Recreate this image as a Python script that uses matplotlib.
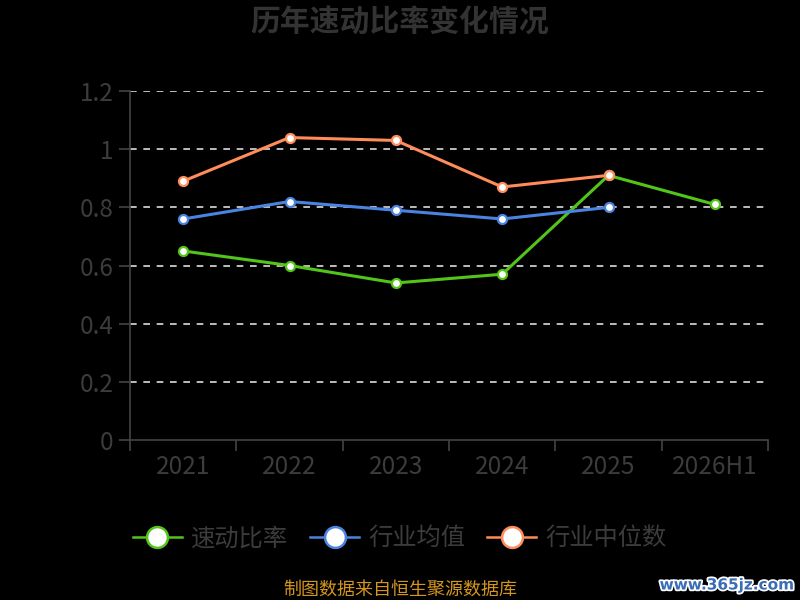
import matplotlib
matplotlib.use("Agg")
import matplotlib.pyplot as plt
import matplotlib.patheffects as pe
from matplotlib.lines import Line2D
import numpy as np

plt.rcParams['font.family'] = ['Noto Sans CJK SC', 'DejaVu Sans']

categories = ['2021', '2022', '2023', '2024', '2025', '2026H1']
quick_ratio = [0.65, 0.60, 0.54, 0.57, 0.91, 0.81]
industry_avg = [0.76, 0.82, 0.79, 0.76, 0.80]
industry_median = [0.89, 1.04, 1.03, 0.87, 0.91]
series_names = ['速动比率', '行业均值', '行业中位数']
colors = ['#52c41a', '#4a84e0', '#ff8c5a']
yticks = [0, 0.2, 0.4, 0.6, 0.8, 1.0, 1.2]
ytick_labels = ['0', '0.2', '0.4', '0.6', '0.8', '1', '1.2']

fig = plt.figure(figsize=(8, 6), dpi=100, facecolor='black')
ax = fig.add_axes([0.1625, 0.2667, 0.7975, 0.5816])
ax.set_facecolor('black')

text_color = '#3c3c3c'
axis_color = '#444444'

x = np.arange(len(categories))
data = [quick_ratio, industry_avg, industry_median]
for vals, c, name in zip(data, colors, series_names):
    ax.plot(x[:len(vals)], vals, color=c, lw=2.2, marker='o', markersize=6.5,
            markerfacecolor='white', markeredgecolor=c, markeredgewidth=1.6,
            zorder=3, label=name)

ax.set_xlim(-0.5, len(categories) - 0.5)
ax.set_ylim(0, 1.2)
ax.set_yticks(yticks)
ax.set_yticklabels(ytick_labels)
for yv in yticks[1:]:
    ax.axhline(yv, color='#dddddd', lw=1.2, ls=(0, (4, 4)), zorder=1)

ax.set_xticks(np.arange(-0.5, len(categories), 1))
ax.set_xticklabels([])
ax.set_xticks(x, minor=True)
ax.set_xticklabels(categories, minor=True)
ax.tick_params(axis='x', which='major', length=8, color=axis_color, width=1.2)
ax.tick_params(axis='x', which='minor', length=0, pad=10, labelsize=17.5, labelcolor=text_color)
ax.tick_params(axis='y', length=8, color=axis_color, width=1.2, labelsize=17.5,
               labelcolor=text_color, pad=4)

for s in ['top', 'right']:
    ax.spines[s].set_visible(False)
for s in ['left', 'bottom']:
    ax.spines[s].set_color(axis_color)
    ax.spines[s].set_linewidth(1.2)

fig.text(0.5, 0.963, '历年速动比率变化情况', ha='center', va='center',
         fontsize=21.5, fontweight='bold', color='#333333')

handles = [Line2D([0], [0], color=c, lw=1.8, marker='o', markersize=15,
                  markerfacecolor='white', markeredgecolor=c, markeredgewidth=1.8)
           for c in colors]
leg = fig.legend(handles, series_names, loc='center', bbox_to_anchor=(0.5, 0.103),
                 ncol=3, frameon=False, fontsize=17.5, handlelength=2.0,
                 columnspacing=0.9, handletextpad=0.4)
for t in leg.get_texts():
    t.set_color(text_color)

fig.text(0.5, 0.017, '制图数据来自恒生聚源数据库', ha='center', va='center',
         fontsize=13, color='#d4961e')
fig.text(0.992, 0.025, 'www.365jz.com', ha='right', va='center', fontsize=11,
         fontweight='bold', color='#3a6db5', family='DejaVu Sans',
         path_effects=[pe.withStroke(linewidth=2.5, foreground='white')])

fig.savefig('out.png', dpi=100, facecolor='black')
